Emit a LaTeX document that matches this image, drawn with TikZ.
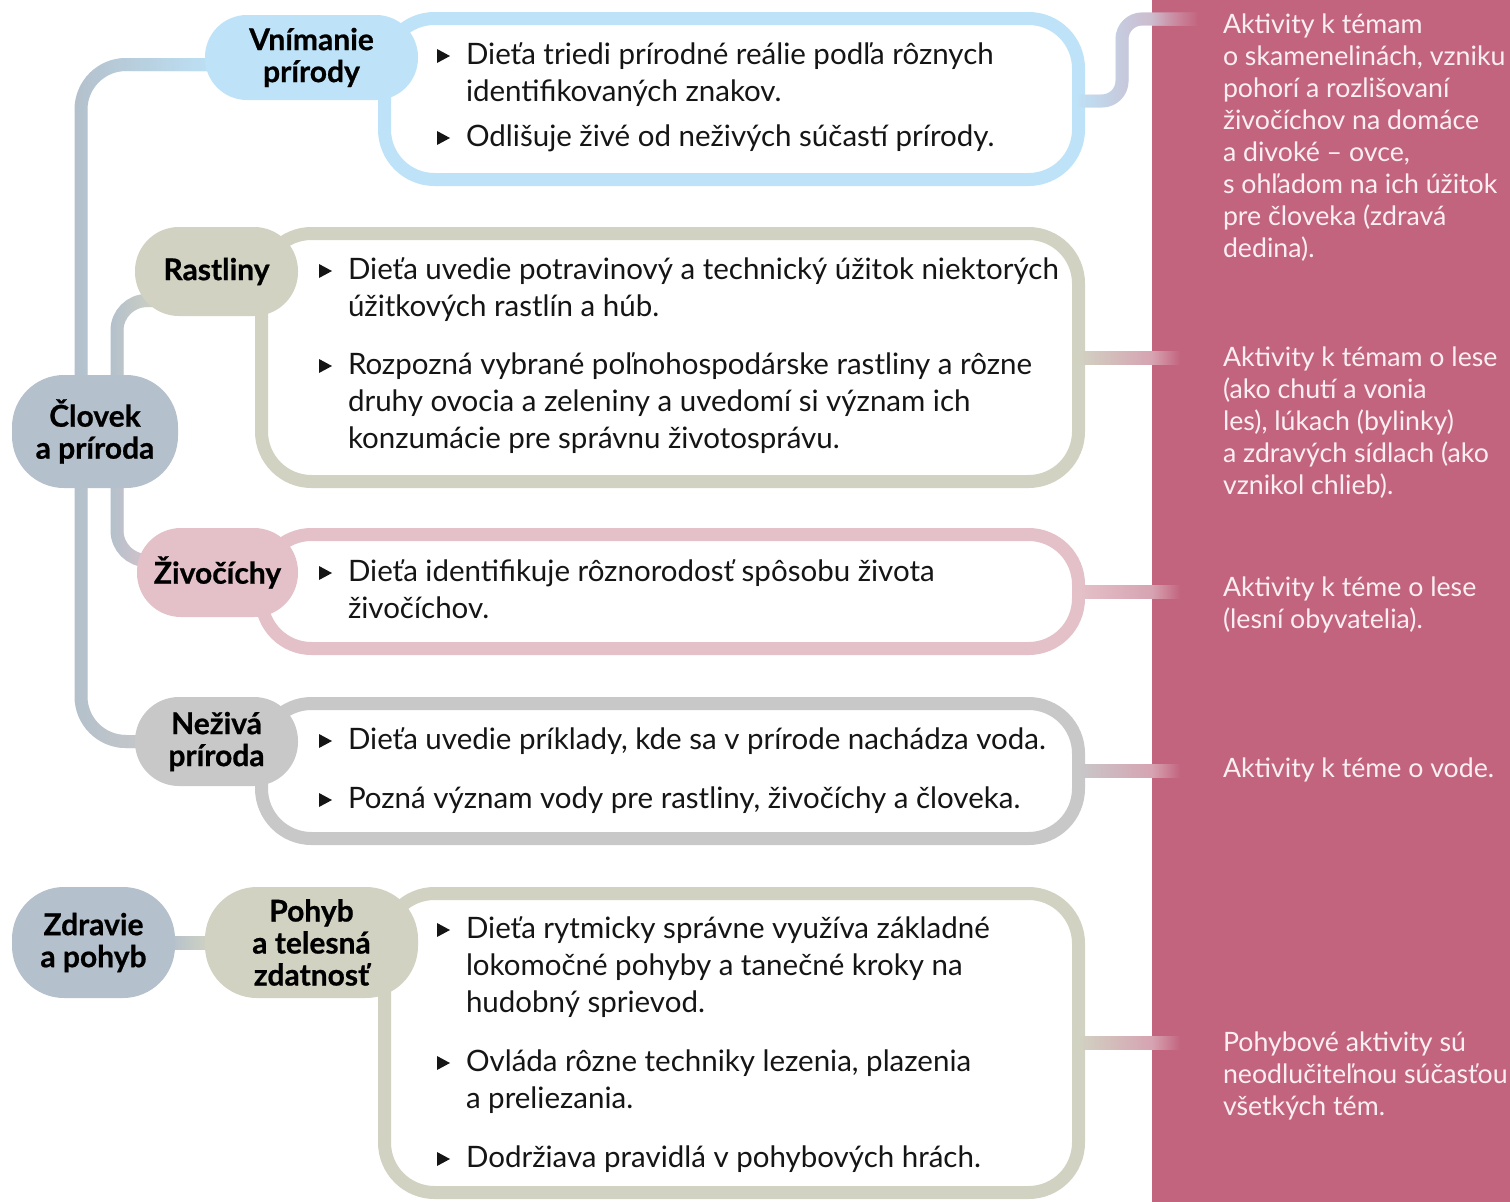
\documentclass[tikz,border=0pt]{standalone}
\usepackage{fontspec}
\setmainfont{Lato}[BoldFeatures={FakeBold=0.7}]
\usetikzlibrary{calc,fadings}
\definecolor{cBlue}{HTML}{BEE3F8}
\definecolor{cBeige}{HTML}{D1D2C2}
\definecolor{cPink}{HTML}{E4C1C9}
\definecolor{cGrey}{HTML}{C8C8C9}
\definecolor{cSlate}{HTML}{B4C1CC}
\definecolor{cPanel}{HTML}{C3647F}
\definecolor{cStub}{HTML}{D6A3B2}
\definecolor{cPanelText}{HTML}{FBEFF3}
\definecolor{cText}{HTML}{151515}
\tikzfading[name=fadein, left color=transparent!100, right color=transparent!0]
\newcommand\lns[1]{\begin{tabular}[t]{@{}l@{}}#1\end{tabular}}
\newcommand\bulat[1]{\fill[cText] ($(#1.north west)+(-29,24)$) -- ++(0,-14) -- ++(13,7) -- cycle;}
\begin{document}
\begin{tikzpicture}[x=1pt,y=-1pt,
  conn/.style={line width=13pt},
  pill/.style={rounded corners=#1, inner sep=0pt, outer sep=0pt, align=center, text=black,
    font=\bfseries\fontsize{30}{32}\selectfont},
  boxline/.style={draw, line width=13pt, rounded corners=50pt, inner sep=0pt, outer sep=0pt},
  item/.style={anchor=north west, inner sep=0pt, outer sep=0pt, text=cText,
    font=\fontsize{29.5}{37}\selectfont},
  ptext/.style={anchor=north west, inner sep=0pt, outer sep=0pt, text=cPanelText,
    font=\fontsize{26.7}{32}\selectfont}]
\useasboundingbox (0,0) rectangle (1510,1202);
\fill[white] (0,0) rectangle (1510,1202);

% panel
\node[fill=cPanel, anchor=north west, minimum width=358pt, minimum height=1202pt, inner sep=0pt, outer sep=0pt] (panel) at (1152,0) {};

% boxes
\node[boxline, draw=cBlue, minimum width=694pt, minimum height=161pt] (vbox) at (731.5,99) {};
\node[boxline, draw=cBeige, minimum width=817pt, minimum height=248pt] (rbox) at (670,357.5) {};
\node[boxline, draw=cPink, minimum width=817pt, minimum height=114pt] (zbox) at (670,591.5) {};
\node[boxline, draw=cGrey, minimum width=817pt, minimum height=135pt] (nbox) at (670,771) {};
\node[boxline, draw=cBeige, minimum width=694pt, minimum height=299pt] (pbox) at (731.5,1043) {};

% label node positions
\path
  (95,431.5) coordinate (clovekc)
  (311.5,57.5) coordinate (vnimc)
  (216.5,271.5) coordinate (rastc)
  (217.5,572.5) coordinate (zivc)
  (216.5,741.5) coordinate (nezc)
  (93.5,942.5) coordinate (zdravc)
  (311.5,942.5) coordinate (pohybc);

\node[pill=52pt, minimum width=166pt, minimum height=113pt] (clovek) at (clovekc) {};
\node[pill=42pt, minimum width=213pt, minimum height=85pt] (vnim) at (vnimc) {};
\node[pill=44pt, minimum width=163pt, minimum height=89pt] (rast) at (rastc) {};
\node[pill=44pt, minimum width=161pt, minimum height=89pt] (ziv) at (zivc) {};
\node[pill=44pt, minimum width=163pt, minimum height=89pt] (nez) at (nezc) {};
\node[pill=52pt, minimum width=163pt, minimum height=111pt] (zdrav) at (zdravc) {};
\node[pill=52pt, minimum width=213pt, minimum height=111pt] (pohyb) at (pohybc) {};

% left connectors
\draw[conn, cSlate, rounded corners=45pt] ($(clovek.north)+(-14,20)$) |- ($(vnim.west)+(10,7)$);
\draw[conn, cBlue, rounded corners=45pt, path fading=fadein] ($(clovek.north)+(-14,20)$) |- ($(vnim.west)+(10,7)$);
\draw[conn, cSlate, rounded corners=30pt] ($(clovek.north)+(22,20)$) |- ($(rast.west)+(20,29)$);
\draw[conn, cBeige, rounded corners=30pt, path fading=fadein] ($(clovek.north)+(22,20)$) |- ($(rast.west)+(20,29)$);
\draw[conn, cSlate, rounded corners=30pt] ($(clovek.south)+(22,-20)$) |- ($(ziv.west)+(20,-12)$);
\draw[conn, cPink, rounded corners=30pt, path fading=fadein] ($(clovek.south)+(22,-20)$) |- ($(ziv.west)+(20,-12)$);
\draw[conn, cSlate, rounded corners=45pt] ($(clovek.south)+(-14,-20)$) |- ($(nez.west)+(10,0)$);
\draw[conn, cGrey, rounded corners=45pt, path fading=fadein] ($(clovek.south)+(-14,-20)$) |- ($(nez.west)+(10,0)$);
\shade[left color=cSlate, right color=cBeige] ($(zdrav.east)+(-5,-6.5)$) rectangle ($(pohyb.west)+(5,6.5)$);

% right connectors
\coordinate (vEnd) at ($(panel.north west)+(45,19)$);
\draw[conn, cBlue, rounded corners=20pt] ($(vbox.east)+(0,2)$) -- ++(43.5,0) |- (vEnd);
\draw[conn, cStub, rounded corners=20pt, path fading=fadein] ($(vbox.east)+(0,2)$) -- ++(43.5,0) |- (vEnd);
\fill[cPanel, path fading=fadein] ($(panel.north west)+(0,10)$) rectangle ($(panel.north west)+(47,28)$);
\foreach \b/\c in {rbox/cBeige, zbox/cPink, nbox/cGrey, pbox/cBeige}{
  \shade[left color=\c, right color=cStub] ($(\b.east)+(0,-6.5)$) rectangle ($(\b.east -| panel.west)+(0,6.5)$);
  \shade[left color=cStub, right color=cPanel] ($(\b.east -| panel.west)+(0,-6.5)$) rectangle ($(\b.east -| panel.west)+(28,6.5)$);
}

% pills on top
\node[pill=52pt, fill=cSlate, minimum width=166pt, minimum height=113pt] at (clovekc) {Človek\\a príroda};
\node[pill=42pt, fill=cBlue, minimum width=213pt, minimum height=85pt] at (vnimc) {Vnímanie\\prírody};
\node[pill=44pt, fill=cBeige, minimum width=163pt, minimum height=89pt] at (rastc) {Rastliny};
\node[pill=44pt, fill=cPink, minimum width=161pt, minimum height=89pt] at (zivc) {Živočíchy};
\node[pill=44pt, fill=cGrey, minimum width=163pt, minimum height=89pt] at (nezc) {Neživá\\príroda};
\node[pill=52pt, fill=cSlate, minimum width=163pt, minimum height=111pt] at (zdravc) {Zdravie\\a pohyb};
\node[pill=52pt, fill=cBeige, minimum width=213pt, minimum height=111pt] at (pohybc) {Pohyb\\a telesná\\zdatnosť};

% items
\node[item] (v1) at (466,39) {\lns{Dieťa triedi prírodné reálie podľa rôznych\\identifikovaných znakov.}};
\node[item] (v2) at (466,121) {\lns{Odlišuje živé od neživých súčastí prírody.}};
\node[item] (r1) at (348,254) {\lns{Dieťa uvedie potravinový a technický úžitok niektorých\\úžitkových rastlín a húb.}};
\node[item] (r2) at (348,349) {\lns{Rozpozná vybrané poľnohospodárske rastliny a rôzne\\druhy ovocia a zeleniny a uvedomí si význam ich\\konzumácie pre správnu životosprávu.}};
\node[item] (z1) at (348,556) {\lns{Dieťa identifikuje rôznorodosť spôsobu života\\živočíchov.}};
\node[item] (n1) at (348,724) {\lns{Dieťa uvedie príklady, kde sa v prírode nachádza voda.}};
\node[item] (n2) at (348,783) {\lns{Pozná význam vody pre rastliny, živočíchy a človeka.}};
\node[item] (p1) at (466,913) {\lns{Dieťa rytmicky správne využíva základné\\lokomočné pohyby a tanečné kroky na\\hudobný sprievod.}};
\node[item] (p2) at (466,1046) {\lns{Ovláda rôzne techniky lezenia, plazenia\\a preliezania.}};
\node[item] (p3) at (466,1142) {\lns{Dodržiava pravidlá v pohybových hrách.}};
\foreach \n in {v1,v2,r1,r2,z1,n1,n2,p1,p2,p3}{\bulat{\n}}

% panel texts
\node[ptext] (t1) at (1223,11.2) {\lns{Aktivity k témam\\o skamenelinách, vzniku\\pohorí a rozlišovaní\\živočíchov na domáce\\a divoké – ovce,\\s ohľadom na ich úžitok\\pre človeka (zdravá\\dedina).}};
\node[ptext] (t2) at (1223,344.2) {\lns{Aktivity k témam o lese\\(ako chutí a vonia\\les), lúkach (bylinky)\\a zdravých sídlach (ako\\vznikol chlieb).}};
\node[ptext] (t3) at (1223,574.2) {\lns{Aktivity k téme o lese\\(lesní obyvatelia).}};
\node[ptext] (t4) at (1223,755.2) {\lns{Aktivity k téme o vode.}};
\node[ptext] (t5) at (1223,1029.2) {\lns{Pohybové aktivity sú\\neodlučiteľnou súčasťou\\všetkých tém.}};
\end{tikzpicture}
\end{document}
